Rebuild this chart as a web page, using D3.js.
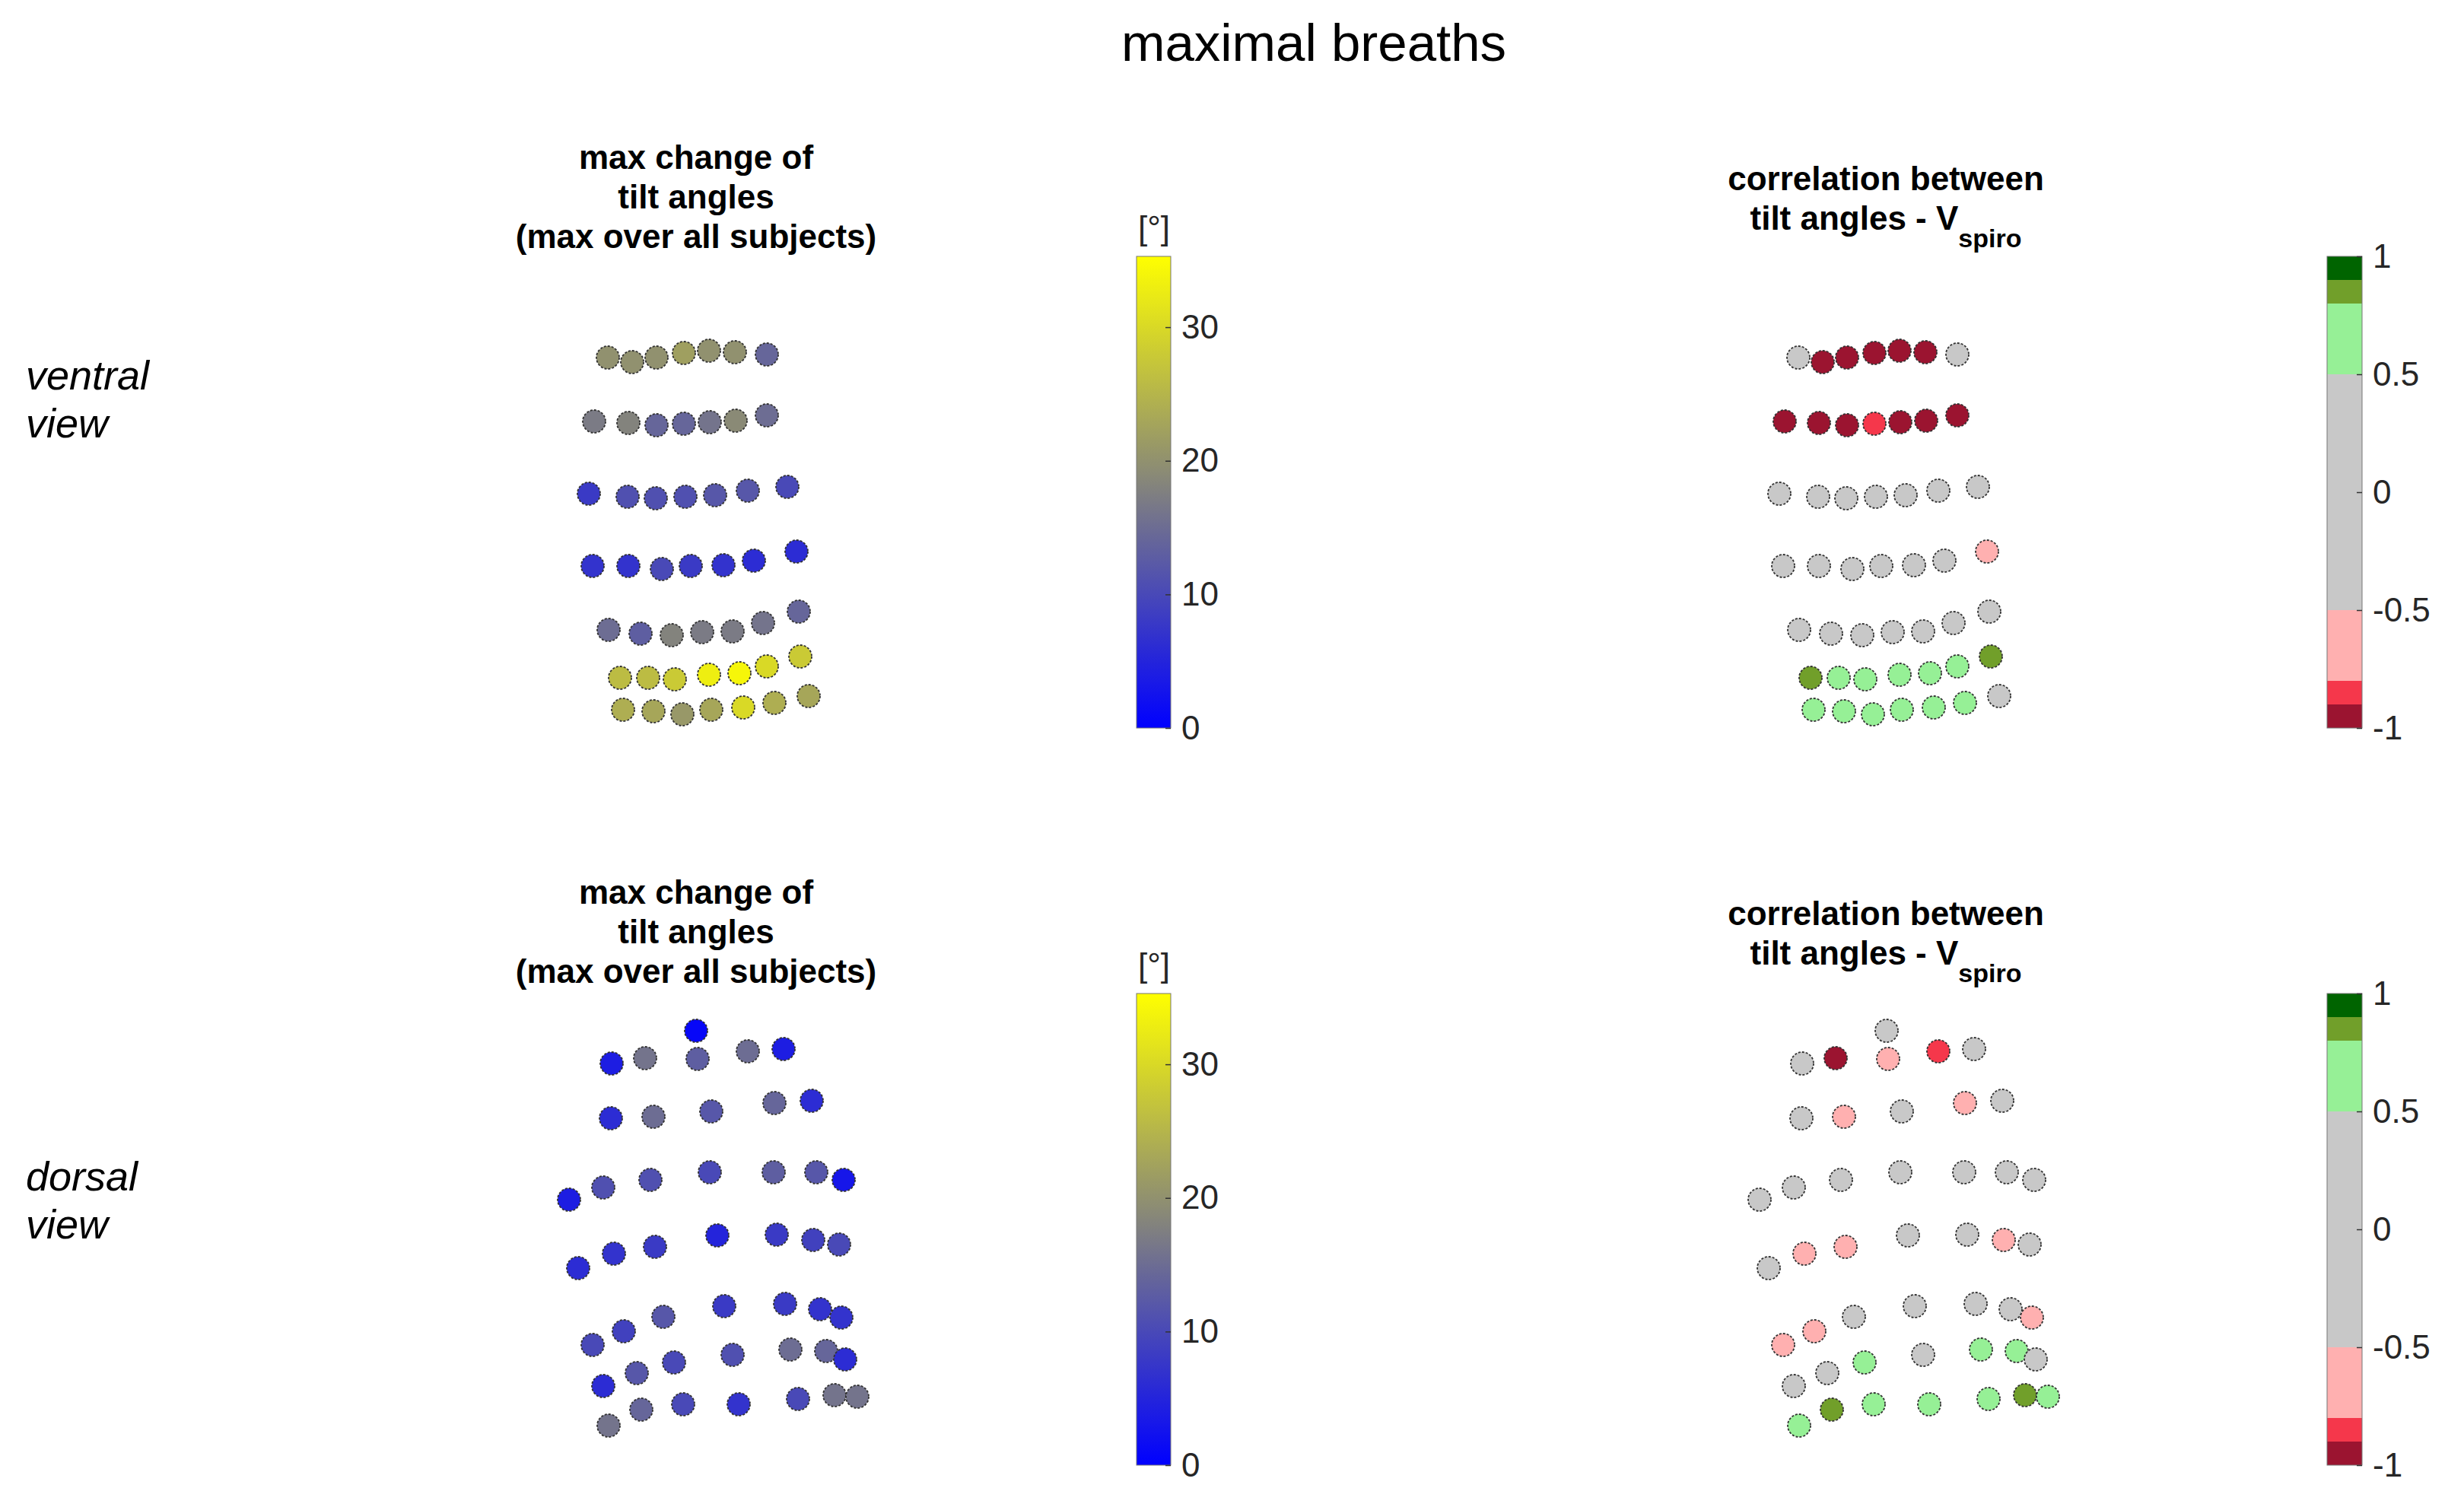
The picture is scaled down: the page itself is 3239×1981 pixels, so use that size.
<!DOCTYPE html>
<html>
<head>
<meta charset="utf-8">
<script src="https://cdn.jsdelivr.net/npm/d3@7"></script>
<style>
	body { margin: 0; background: #fff; overflow: hidden; }
	text { font-family: "Liberation Sans", Arial, Helvetica, sans-serif; }
</style>
</head>
<body>
<svg id="svg"></svg>
<script>
const W = 3239
const H = 1981
const $svg = d3.select('#svg').attr('width', W).attr('height', H)

// marker positions on the torso [cm], ventral view, 7 rows of 7
const ventralX = [
	5.9, 9.1, 12.3, 15.9, 19.2, 22.6, 26.8,
	4.1, 8.6, 12.3, 15.9, 19.3, 22.7, 26.8,
	3.4, 8.5, 12.2, 16.1, 20.0, 24.3, 29.5,
	3.9, 8.6, 13.0, 16.8, 21.1, 25.1, 30.7,
	6.0, 10.2, 14.3, 18.3, 22.3, 26.3, 31.0,
	7.5, 11.2, 14.7, 19.2, 23.2, 26.8, 31.2,
	7.9, 11.9, 15.7, 19.5, 23.7, 27.8, 32.3,
]
const ventralY = [
	3.0, 3.6, 3.0, 2.4, 2.1, 2.3, 2.6,
	11.4, 11.6, 11.9, 11.7, 11.5, 11.3, 10.6,
	20.9, 21.3, 21.5, 21.3, 21.1, 20.5, 20.0,
	30.4, 30.4, 30.8, 30.4, 30.3, 29.7, 28.5,
	38.8, 39.3, 39.5, 39.1, 39.0, 37.9, 36.4,
	45.1, 45.1, 45.3, 44.7, 44.5, 43.6, 42.3,
	49.3, 49.5, 49.9, 49.3, 49.0, 48.4, 47.5,
]
// max change of tilt angle [deg]
const ventralMaxTilt = [
	20, 20, 20, 22, 20, 20, 14,
	17, 18, 14, 14, 16, 19, 15,
	8, 11, 11, 11, 12, 12, 10,
	7, 7, 10, 8, 7, 6, 6,
	15, 13, 18, 17, 17, 16, 14,
	26, 26, 28, 33, 34, 30, 28,
	24, 23, 21, 23, 30, 24, 23,
]
// correlation tilt angle - V_spiro
const ventralCorr = [
	0.1, -0.95, -0.95, -0.95, -0.95, -0.95, 0.1,
	-0.95, -0.95, -0.95, -0.85, -0.95, -0.95, -0.95,
	0.2, 0.1, 0.0, 0.1, 0.2, 0.3, 0.1,
	0.1, 0.0, -0.1, 0.0, 0.1, 0.2, -0.6,
	0.3, 0.2, 0.2, 0.3, 0.3, 0.4, 0.3,
	0.85, 0.7, 0.65, 0.7, 0.7, 0.6, 0.85,
	0.6, 0.7, 0.6, 0.65, 0.7, 0.6, 0.4,
]

// dorsal view, 46 markers
const dorsalX = [
	17.5,
	6.4, 10.8, 17.7, 24.3, 29.0,
	6.3, 11.9, 19.5, 27.8, 32.7,
	0.8, 5.3, 11.5, 19.3, 27.7, 33.3, 36.9,
	2.0, 6.7, 12.1, 20.3, 28.1, 32.9, 36.3,
	3.9, 8.0, 13.2, 21.2, 29.2, 33.8, 36.6,
	5.3, 9.7, 14.6, 22.3, 29.9, 34.6, 37.1,
	6.0, 10.3, 15.8, 23.1, 30.9, 35.7, 38.7,
]
const dorsalY = [
	1.5,
	5.8, 5.1, 5.2, 4.2, 3.9,
	13.0, 12.8, 12.1, 11.0, 10.7,
	23.7, 22.1, 21.1, 20.1, 20.1, 20.1, 21.1,
	32.7, 30.8, 29.9, 28.4, 28.3, 29.0, 29.6,
	42.8, 41.0, 39.1, 37.7, 37.4, 38.1, 39.2,
	48.2, 46.5, 45.1, 44.1, 43.4, 43.6, 44.7,
	53.4, 51.3, 50.6, 50.6, 49.9, 49.4, 49.6,
]
const dorsalMaxTilt = [
	1,
	4, 16, 13, 15, 4,
	6, 15, 12, 14, 6,
	4, 11, 11, 10, 13, 12, 3,
	6, 7, 8, 5, 8, 9, 10,
	10, 9, 12, 8, 8, 7, 7,
	6, 12, 10, 11, 15, 14, 6,
	16, 14, 10, 7, 10, 16, 16,
]
const dorsalCorr = [
	0.1,
	0.1, -0.95, -0.6, -0.85, 0.1,
	0.1, -0.6, 0.1, -0.6, 0.1,
	0.1, 0.2, 0.1, 0.0, 0.1, 0.2, 0.1,
	0.1, -0.6, -0.6, 0.1, 0.0, -0.6, 0.1,
	-0.6, -0.6, 0.1, 0.2, 0.1, 0.1, -0.6,
	0.1, 0.2, 0.6, 0.1, 0.6, 0.6, 0.1,
	0.6, 0.85, 0.6, 0.6, 0.6, 0.85, 0.6,
]

const tiltMax = 35.3
const tiltTicks = [0, 10, 20, 30]
const corrEdges = [-1, -0.9, -0.8, -0.5, 0.5, 0.8, 0.9, 1]
const corrColors = ['#9b1430', '#f5374b', '#ffb0b0', '#c8c8c8', '#96f096', '#719f2a', '#006400']
const corrTicks = [-1, -0.5, 0, 0.5, 1]

const tiltColor = d3.scaleLinear()
	.domain([0, tiltMax / 2, tiltMax])
	.range(['#0000ff', '#808080', '#ffff00'])
const corrColor = d3.scaleThreshold()
	.domain(corrEdges.slice(1, -1))
	.range(corrColors)

const views = [
	{ name: 'ventral', xs: ventralX, ys: ventralY, tilt: ventralMaxTilt, corr: ventralCorr, top: 440, labelY: 512, titleY: 222, barTop: 337 },
	{ name: 'dorsal', xs: dorsalX, ys: dorsalY, tilt: dorsalMaxTilt, corr: dorsalCorr, top: 1340, labelY: 1565, titleY: 1188, barTop: 1306 },
]

const leftX = 740
const rightShift = 1565
const barH = 620

const drawDots = ({ xs, ys, values, color, x0, y0 }) => {
	const scaleX = d3.scaleLinear().domain([0, 45]).range([x0, x0 + 450])
	const scaleY = d3.scaleLinear().domain([0, 55]).range([y0, y0 + 550])
	$svg.append('g')
		.selectAll('circle')
		.data(xs.map((x, i) => ({ x, y: ys[i], v: values[i] })))
		.join('circle')
		.attr('cx', d => scaleX(d.x))
		.attr('cy', d => scaleY(d.y))
		.attr('r', 15)
		.attr('fill', d => color(d.v))
		.attr('stroke', '#333')
		.attr('stroke-width', 1.8)
		.attr('stroke-dasharray', '3 2')
}

const styleAxis = (g) => {
	g.select('.domain').remove()
	g.attr('font-size', 44)
		.attr('font-family', '"Liberation Sans", Arial, Helvetica, sans-serif')
	g.selectAll('.tick line').attr('stroke', '#333').attr('stroke-width', 1.5)
	g.selectAll('.tick text').attr('fill', '#262626')
}

// shared vertical gradient for the tilt colour bar
const grad = $svg.append('defs').append('linearGradient')
	.attr('id', 'tiltGrad')
	.attr('x1', 0).attr('y1', 1).attr('x2', 0).attr('y2', 0)
grad.selectAll('stop')
	.data(d3.range(0, 1.0001, 0.05))
	.join('stop')
	.attr('offset', d => d)
	.attr('stop-color', d => tiltColor(d * tiltMax))

const drawTiltBar = (top) => {
	const x = 1494
	const scaleY = d3.scaleLinear().domain([0, tiltMax]).range([top + barH, top])
	$svg.append('rect')
		.attr('x', x).attr('y', top)
		.attr('width', 45).attr('height', barH)
		.attr('fill', 'url(#tiltGrad)')
		.attr('stroke', '#777').attr('stroke-width', 1)
	$svg.append('g')
		.attr('transform', `translate(${x + 45},0)`)
		.call(d3.axisRight(scaleY).tickValues(tiltTicks).tickSize(-7).tickPadding(14).tickFormat(d => String(d)))
		.call(styleAxis)
	$svg.append('text')
		.attr('x', x + 23).attr('y', top - 22)
		.attr('text-anchor', 'middle')
		.attr('font-size', 44)
		.attr('fill', '#262626')
		.text('[°]')
}

const drawCorrBar = (top) => {
	const x = 3059
	const scaleY = d3.scaleLinear().domain([-1, 1]).range([top + barH, top])
	$svg.append('g')
		.selectAll('rect')
		.data(corrColors)
		.join('rect')
		.attr('x', x)
		.attr('y', (c, i) => scaleY(corrEdges[i + 1]))
		.attr('width', 46)
		.attr('height', (c, i) => scaleY(corrEdges[i]) - scaleY(corrEdges[i + 1]))
		.attr('fill', c => c)
	$svg.append('rect')
		.attr('x', x).attr('y', top)
		.attr('width', 46).attr('height', barH)
		.attr('fill', 'none')
		.attr('stroke', '#777').attr('stroke-width', 1)
	$svg.append('g')
		.attr('transform', `translate(${x + 46},0)`)
		.call(d3.axisRight(scaleY).tickValues(corrTicks).tickSize(-7).tickPadding(14).tickFormat(d => String(d)))
		.call(styleAxis)
}

const drawLines = (lines, cx, y0) => {
	lines.forEach((line, i) => {
		const t = $svg.append('text')
			.attr('x', cx).attr('y', y0 + i * 52)
			.attr('text-anchor', 'middle')
			.attr('font-size', 44)
			.attr('font-weight', 'bold')
			.attr('fill', '#000')
		if (Array.isArray(line)) {
			t.append('tspan').text(line[0])
			t.append('tspan').attr('font-size', 34).attr('dy', 23).text(line[1])
		} else {
			t.text(line)
		}
	})
}

$svg.append('text')
	.attr('x', 1727).attr('y', 80)
	.attr('text-anchor', 'middle')
	.attr('font-size', 69)
	.attr('fill', '#000')
	.text('maximal breaths')

views.forEach(v => {
	drawDots({ xs: v.xs, ys: v.ys, values: v.tilt, color: tiltColor, x0: leftX, y0: v.top })
	drawDots({ xs: v.xs, ys: v.ys, values: v.corr, color: corrColor, x0: leftX + rightShift, y0: v.top })
	drawTiltBar(v.barTop)
	drawCorrBar(v.barTop)
	drawLines(['max change of', 'tilt angles', '(max over all subjects)'], 915, v.titleY)
	drawLines(['correlation between', ['tilt angles - V', 'spiro']], 2479, v.titleY + 28)
	const lab = $svg.append('text')
		.attr('font-size', 54)
		.attr('font-style', 'italic')
		.attr('fill', '#000')
	lab.append('tspan').attr('x', 34).attr('y', v.labelY).text(v.name)
	lab.append('tspan').attr('x', 34).attr('y', v.labelY + 63).text('view')
})
</script>
</body>
</html>
